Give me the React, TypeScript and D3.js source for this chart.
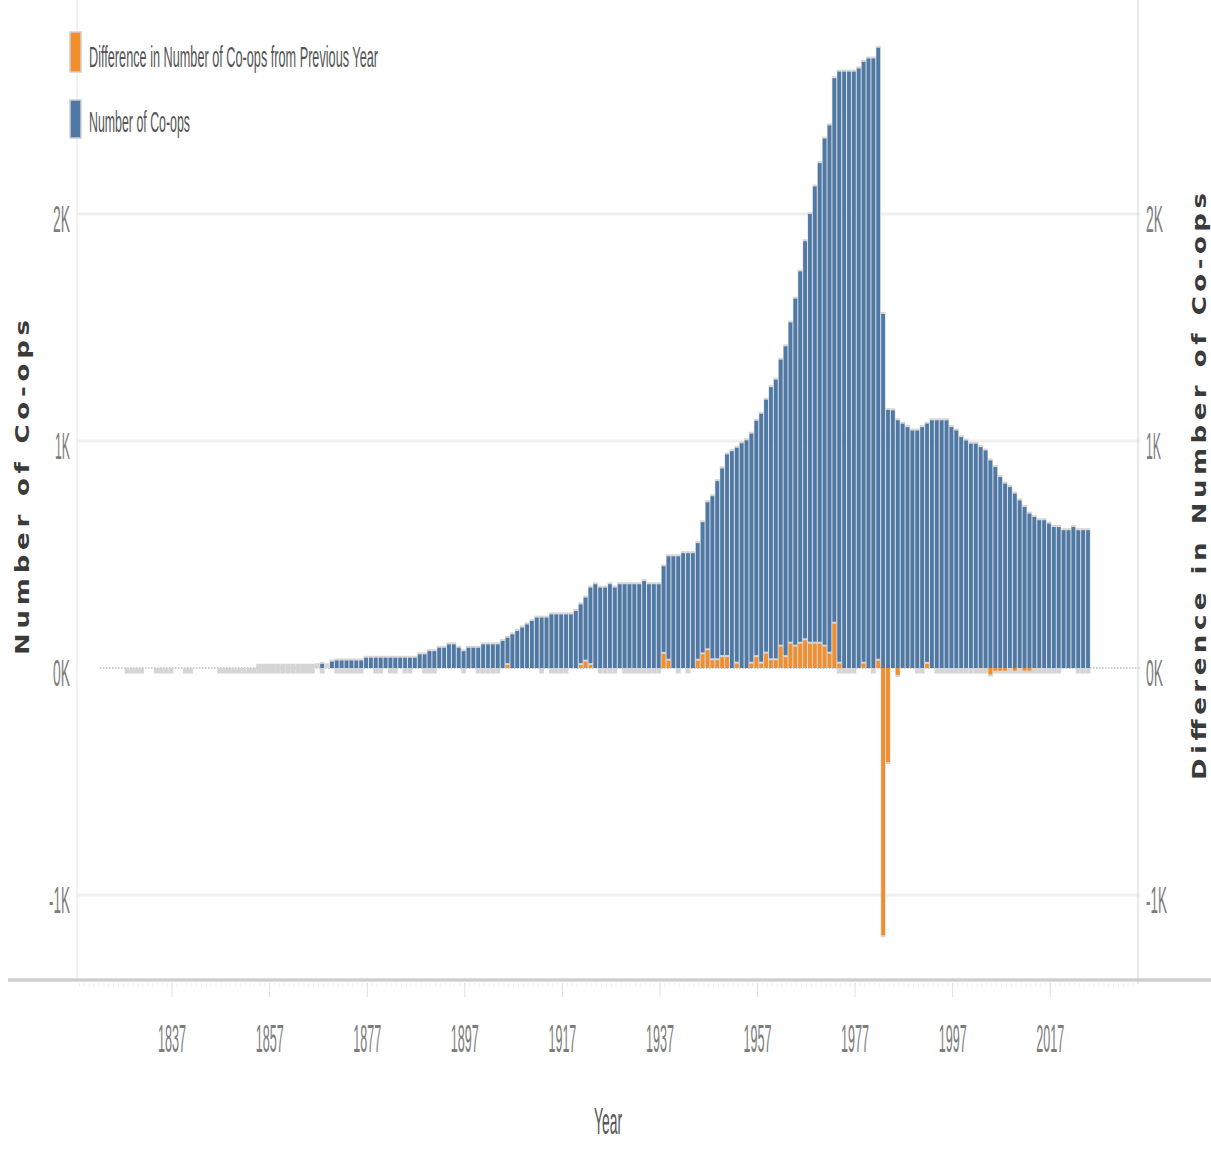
import React from 'react'
import * as d3 from 'd3'

// Number of co-ops per year, starting 1854
const countStart = 1854
const coopCounts = [
  10, 10, 10, 10, 10, 10, 10, 10, 10, 10, 10, 10, // 1854-1865
  12, 18, 12, 28, // 1866-1869
  33, 33, 33, 33, 33, 33, // 1870-1875
  45, 45, 45, 45, 45, 45, 45, 45, 45, 45, 45, // 1876-1886
  60, 60, 74, 74, 89, 89, 104, 104, 89, 74, 89, 89, 89, // 1887-1899
  104, 104, 104, 104, 119, 133, 148, 163, 178, 192, 207, // 1900-1910
  222, 222, 222, 236, 236, 236, 236, 236, 251, 280, 310, 354, 369, // 1911-1923
  354, 354, 369, 354, 369, 369, 369, 369, 369, 383, 369, 369, 369, // 1924-1936
  448, 492, 492, 492, 506, 506, 506, 550, 642, 730, 757, 823, 879, // 1937-1949
  941, 955, 970, 990, 1003, 1032, 1089, 1120, 1182, 1237, 1270, // 1950-1960
  1358, 1417, 1522, 1627, 1747, 1880, 2000, 2121, 2224, 2332, // 1961-1970
  2390, 2598, 2627, 2627, 2627, 2627, 2641, 2670, 2685, 2685, // 1971-1980
  2732, 1560, 1137, 1135, 1091, 1076, 1061, 1046, 1046, 1061, // 1981-1990
  1076, 1091, 1091, 1091, 1091, 1061, 1046, 1017, 1002, 988, // 1991-2000
  988, 973, 958, 914, 885, 841, 812, 797, 768, 738, // 2001-2010
  709, 680, 665, 651, 651, 636, 621, 621, 607, 607, // 2011-2020
  621, 607, 607, 607 // 2021-2024
]

// Difference from previous year (only the years where a bar is visible)
const diffYears = [
  1905, 1920, 1921, 1922, 1937, 1938, 1944, 1945, 1946, 1947, 1948, 1949, 1950,
  1952, 1955, 1956, 1957, 1958, 1959, 1960, 1961, 1962, 1963, 1964, 1965, 1966,
  1967, 1968, 1969, 1970, 1971, 1972, 1973, 1978, 1981, 1982, 1983, 1985, 1991,
  2004, 2005, 2006, 2007, 2009, 2011, 2012
]
const diffValues = [
  13, 13, 28, 13, 62, 32, 32, 60, 78, 34, 34, 48, 48,
  19, 19, 48, 19, 63, 34, 34, 94, 48, 107, 94, 107, 122,
  107, 107, 107, 94, 63, 195, 19, 19, 32, -1177, -414, -30, 18,
  -28, -12, -12, -12, -12, -12, -12
]

// year ranges where the zero-height marks leave a grey stub under the baseline
const stubRanges: [number, number][] = [
  [1827, 1830], [1833, 1836], [1839, 1840], [1846, 1865], [1867, 1867],
  [1870, 1875], [1878, 1879], [1881, 1882], [1884, 1885], [1888, 1890],
  [1896, 1896], [1899, 1903], [1912, 1912], [1914, 1917], [1924, 1927],
  [1929, 1936], [1940, 1940], [1942, 1942], [1973, 1976], [1980, 1980],
  [1985, 1985], [1989, 1990], [1993, 2018], [2022, 2024]
]

const yearTicks = [1837, 1857, 1877, 1897, 1917, 1937, 1957, 1977, 1997, 2017]
const valueTicks = [2000, 1000, 0, -1000]
const valueLabels = ['2K', '1K', '0K', '-1K']
const labelWidths = [17, 15, 17, 21]

const W = 1211
const H = 1171
const BLUE = '#4e79a7'
const ORANGE = '#f28e2b'
const HALO = '#d5d5d5'
const FONT = '"Liberation Sans", Arial, sans-serif'
const TITLE_FONT = '"DejaVu Sans", Verdana, sans-serif'

const x = d3.scaleLinear().domain([1817.5, 2035]).range([77, 1138])
const y = d3.scaleLinear().domain([-1000, 2000]).range([895, 214])
const pitch = x(1) - x(0)
const cx = (yr: number) => x(yr + 0.75)
const y0 = y(0)

const App: React.FC = () => {
  const counts = coopCounts.map((v, i) => ({ year: countStart + i, value: v }))
  const diffs = diffYears.map((yr, i) => ({ year: yr, value: diffValues[i] }))
  const stubs: number[] = []
  stubRanges.forEach(([a, b]) => d3.range(a, b + 1).forEach(yr => stubs.push(yr)))
  const minorYears = d3.range(1818, 2035)

  return (
    <svg width={W} height={H} style={{ position: 'absolute', left: 0, top: 0, background: '#fff' }}
      fontFamily={FONT}>
      {/* gridlines */}
      {valueTicks.filter(v => v !== 0).map(v => (
        <line key={v} x1={77} x2={1140} y1={y(v)} y2={y(v)} stroke="#efefef" strokeWidth={3} />
      ))}
      {/* zero line */}
      <line x1={100} x2={1140} y1={y0} y2={y0} stroke="#bdbdbd" strokeWidth={1.5} strokeDasharray="1.5 1.5" />

      {/* axis frame */}
      <line x1={77} x2={77} y1={0} y2={980} stroke="#e4e4e4" strokeWidth={1} />
      <line x1={1138} x2={1138} y1={0} y2={984} stroke="#d4d4d4" strokeWidth={1} />
      <line x1={8} x2={W} y1={980} y2={980} stroke="#cfcfcf" strokeWidth={3.5} />
      {minorYears.map(yr => (
        <line key={yr} x1={x(yr)} x2={x(yr)} y1={983} y2={987} stroke="#ececec" strokeWidth={0.8} />
      ))}
      {yearTicks.map(yr => (
        <line key={yr} x1={x(yr)} x2={x(yr)} y1={983} y2={997} stroke="#e0e0e0" strokeWidth={1} />
      ))}

      {/* grey stubs below baseline */}
      {stubs.map(yr => (
        <rect key={'s' + yr} x={cx(yr) - pitch / 2} width={pitch} y={y0} height={5.5} fill={HALO} />
      ))}

      {/* number of co-ops: grey border, fill only where the bar is taller than its border */}
      {counts.map(d => (
        <rect key={'h' + d.year} x={cx(d.year) - pitch / 2} width={pitch}
          y={y(d.value) - 2} height={y0 - y(d.value) + 2} fill={HALO} />
      ))}
      {counts.filter(d => y0 - y(d.value) > 3).map(d => (
        <rect key={'b' + d.year} x={cx(d.year) - 1.9} width={3.8}
          y={y(d.value)} height={y0 - y(d.value)} fill={BLUE} />
      ))}

      {/* difference from previous year */}
      {diffs.map(d => {
        const top = Math.min(y(d.value), y0)
        const h = Math.abs(y(d.value) - y0)
        return (
          <g key={'d' + d.year}>
            <rect x={cx(d.year) - pitch / 2} width={pitch}
              y={d.value > 0 ? top - 2 : top} height={h + 2} fill={HALO} />
            <rect x={cx(d.year) - 1.9} width={3.8} y={top} height={h} fill={ORANGE} />
          </g>
        )
      })}

      {/* left axis labels */}
      {valueTicks.map((v, i) => (
        <text key={'l' + v} x={70} y={y(v) + 18} fontSize={36} fill="#7d7d7d" textAnchor="end"
          textLength={labelWidths[i]} lengthAdjust="spacingAndGlyphs">{valueLabels[i]}</text>
      ))}
      {/* right axis labels */}
      {valueTicks.map((v, i) => (
        <text key={'r' + v} x={1146} y={y(v) + 18} fontSize={36} fill="#7d7d7d"
          textLength={labelWidths[i]} lengthAdjust="spacingAndGlyphs">{valueLabels[i]}</text>
      ))}
      {/* year labels */}
      {yearTicks.map(yr => (
        <text key={'y' + yr} x={x(yr) - 14} y={1052} fontSize={39} fill="#7d7d7d"
          textLength={28} lengthAdjust="spacingAndGlyphs">{yr}</text>
      ))}
      <text x={594} y={1134} fontSize={36} fill="#555" textLength={28} lengthAdjust="spacingAndGlyphs">Year</text>

      {/* axis titles (glyph height squeezed, as in the reference) */}
      <text transform="translate(29,487.5) scale(0.78,1) rotate(-90)" textAnchor="middle" fontSize={26}
        fontWeight="bold" fontFamily={TITLE_FONT} fill="#3a3a3a" textLength={335}>Number of Co-ops</text>
      <text transform="translate(1206,486.5) scale(0.78,1) rotate(-90)" textAnchor="middle" fontSize={26}
        fontWeight="bold" fontFamily={TITLE_FONT} fill="#3a3a3a" textLength={587}>Difference in Number of Co-ops</text>

      {/* legend */}
      <rect x={70} y={32} width={11} height={40} fill={ORANGE} stroke="#d0d0d0" strokeWidth={1.5} />
      <text x={89} y={67} fontSize={30} fill="#555" textLength={289} lengthAdjust="spacingAndGlyphs">
        Difference in Number of Co-ops from Previous Year
      </text>
      <rect x={70} y={100} width={11} height={38} fill={BLUE} stroke="#d0d0d0" strokeWidth={1.5} />
      <text x={89} y={132} fontSize={30} fill="#555" textLength={101} lengthAdjust="spacingAndGlyphs">
        Number of Co-ops
      </text>
    </svg>
  )
}

export default App
